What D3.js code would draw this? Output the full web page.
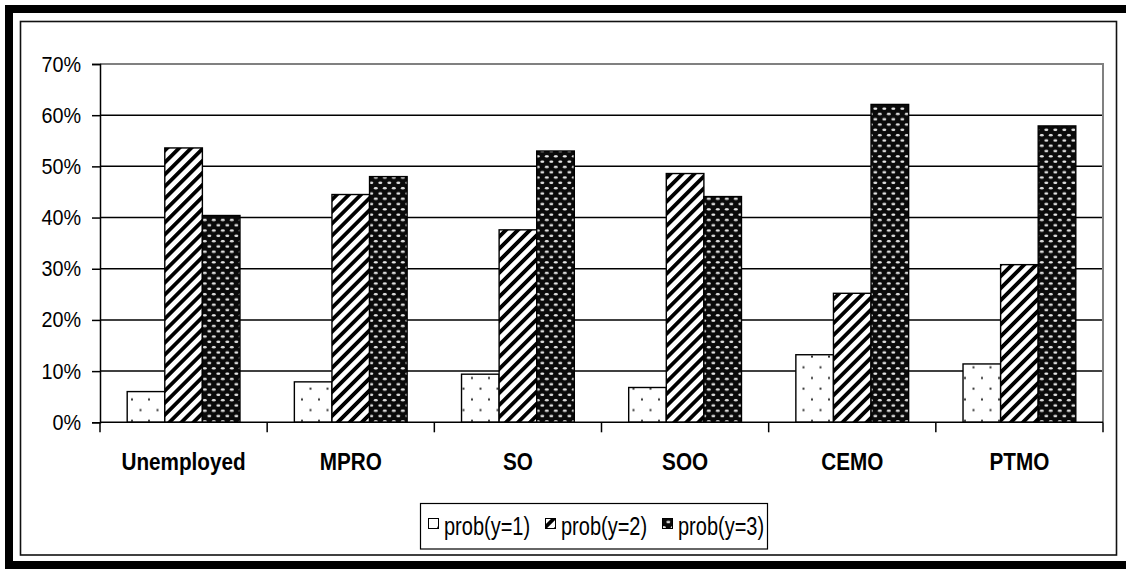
<!DOCTYPE html>
<html><head><meta charset="utf-8">
<script src="https://cdn.jsdelivr.net/npm/d3@7"></script>
<style>html,body{margin:0;padding:0;background:#fff}svg{display:block}</style>
</head><body>
<svg id="c" width="1126" height="569"></svg>
<script>
const categories = ["Unemployed","MPRO","SO","SOO","CEMO","PTMO"];
const seriesNames = ["prob(y=1)","prob(y=2)","prob(y=3)"];
const prob1 = [6.0, 7.9, 9.4, 6.8, 13.2, 11.4];
const prob2 = [53.6, 44.5, 37.6, 48.6, 25.2, 30.8];
const prob3 = [40.4, 48.0, 53.0, 44.1, 62.1, 57.9];
const yTicks = [0,10,20,30,40,50,60,70];

const series = [prob1, prob2, prob3];
const svg = d3.select("#c");
const defs = svg.append("defs");

// pattern: sparse dots
const pd = defs.append("pattern").attr("id","pat0").attr("patternUnits","userSpaceOnUse")
  .attr("width",17).attr("height",21.4);
pd.append("rect").attr("width",17).attr("height",21.4).attr("fill","#fff");
pd.append("rect").attr("x",3.5).attr("y",2.5).attr("width",2).attr("height",2).attr("fill","#333");
pd.append("rect").attr("x",12).attr("y",13.2).attr("width",2).attr("height",2).attr("fill","#333");
// pattern: diagonal stripes
const ps = defs.append("pattern").attr("id","pat1").attr("patternUnits","userSpaceOnUse")
  .attr("width",8.5).attr("height",8.5).attr("patternTransform","rotate(45)");
ps.append("rect").attr("width",8.5).attr("height",8.5).attr("fill","#fff");
ps.append("rect").attr("width",3.8).attr("height",8.5).attr("fill","#000");
// pattern: dark with light ovals
const pe = defs.append("pattern").attr("id","pat2").attr("patternUnits","userSpaceOnUse")
  .attr("width",9).attr("height",10.6);
pe.append("rect").attr("width",9).attr("height",10.6).attr("fill","#0a0a0a");
pe.append("ellipse").attr("cx",2.3).attr("cy",2.6).attr("rx",2).attr("ry",1.2).attr("fill","#e6e6e6");
pe.append("ellipse").attr("cx",6.8).attr("cy",7.9).attr("rx",2).attr("ry",1.2).attr("fill","#e6e6e6");
const fills = ["url(#pat0)","url(#pat1)","url(#pat2)"];

// outer frames
svg.append("rect").attr("x",9).attr("y",9).attr("width",1300).attr("height",556)
  .attr("fill","none").attr("stroke","#000").attr("stroke-width",8);
svg.append("rect").attr("x",20.5).attr("y",21.5).attr("width",1096).attr("height",533.5)
  .attr("fill","none").attr("stroke","#111").attr("stroke-width",1.6);

const L = 100, R = 1103, T = 64, B = 422.3;
const x = d3.scaleBand().domain(categories).range([L,R]).paddingInner(0).paddingOuter(0);
const inner = d3.scaleBand().domain([0,1,2]).range([0,x.bandwidth()]).paddingInner(0).paddingOuter(0.7233);
const y = d3.scaleLinear().domain([0,70]).range([B,T]);

// gridlines
svg.append("g").selectAll("line").data(yTicks.filter(t=>t>0 && t<70)).join("line")
  .attr("x1",L).attr("x2",R).attr("y1",d=>y(d)).attr("y2",d=>y(d))
  .attr("stroke","#000").attr("stroke-width",1.5);
// plot area border top & right (gray)
svg.append("path").attr("d",`M${L},${y(70)}H${R}V${B}`).attr("fill","none")
  .attr("stroke","#808080").attr("stroke-width",2);

// bars
const g = svg.append("g");
series.forEach((vals,si)=>{
  g.append("g").selectAll("rect").data(vals).join("rect")
    .attr("x",(d,i)=>x(categories[i])+inner(si))
    .attr("width",inner.bandwidth())
    .attr("y",d=>y(d)).attr("height",d=>B-y(d))
    .attr("fill",fills[si]).attr("stroke","#000").attr("stroke-width",1.4);
});

// y axis
const ya = svg.append("g").attr("transform",`translate(${L},0)`)
  .call(d3.axisLeft(y).tickValues(yTicks).tickSize(8).tickPadding(11).tickFormat(d=>d+"%"));
ya.select(".domain").attr("stroke","#000").attr("stroke-width",1.5);
ya.selectAll(".tick line").attr("stroke","#000").attr("stroke-width",1.5);
ya.selectAll(".tick text").attr("font-family","Liberation Sans, Arial, sans-serif")
  .attr("font-size",22).attr("fill","#000")
  .each(function(){ const t=d3.select(this); t.attr("transform","scale(0.9,1)").attr("x",-19/0.9); });

// x axis
const xa = svg.append("g").attr("transform",`translate(0,${B})`);
xa.append("line").attr("x1",L).attr("x2",R).attr("stroke","#000").attr("stroke-width",1.5);
const bounds = categories.map(c=>x(c)).concat([R]);
xa.selectAll("line.tk").data(bounds).join("line").attr("class","tk")
  .attr("x1",d=>d).attr("x2",d=>d).attr("y1",0).attr("y2",10).attr("stroke","#000").attr("stroke-width",1.5);
xa.selectAll("text").data(categories).join("text")
  .attr("transform",d=>`translate(${x(d)+x.bandwidth()/2},48) scale(0.9,1)`)
  .attr("text-anchor","middle").attr("font-family","Liberation Sans, Arial, sans-serif")
  .attr("font-weight","bold").attr("font-size",23).attr("fill","#000").text(d=>d);

// legend
const lg = svg.append("g");
lg.append("rect").attr("x",420.5).attr("y",503.5).attr("width",347).attr("height",45.5)
  .attr("fill","#fff").attr("stroke","#000").attr("stroke-width",1.2);
const itemX = [428, 545, 662];
seriesNames.forEach((n,i)=>{
  lg.append("rect").attr("x",itemX[i]+0.5).attr("y",518.5).attr("width",10).attr("height",10)
    .attr("fill",fills[i]).attr("stroke","#000").attr("stroke-width",1);
  lg.append("text").attr("transform",`translate(${itemX[i]+16},534.5) scale(0.8,1)`)
    .attr("font-family","Liberation Sans, Arial, sans-serif").attr("font-size",25).attr("fill","#000").text(n);
});
</script>
</body></html>
